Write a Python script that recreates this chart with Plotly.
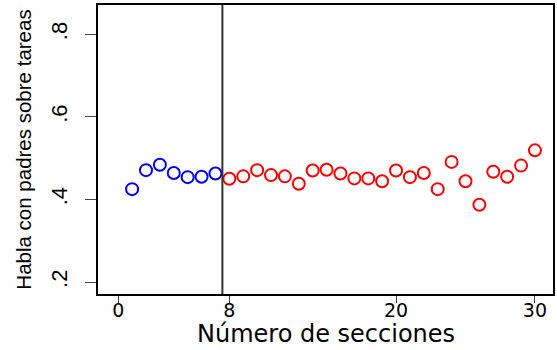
import plotly.graph_objects as go

sections_blue = [1, 2, 3, 4, 5, 6, 7]
values_blue = [0.425, 0.471, 0.484, 0.464, 0.454, 0.455, 0.463]
sections_red = list(range(8, 31))
values_red = [0.450, 0.456, 0.471, 0.459, 0.456, 0.438, 0.470, 0.472, 0.463,
              0.451, 0.451, 0.444, 0.470, 0.454, 0.464, 0.425, 0.491, 0.444,
              0.387, 0.467, 0.455, 0.482, 0.519]
cutoff = 7.5
x_ticks = [0, 8, 20, 30]
y_ticks = [0.2, 0.4, 0.6, 0.8]
y_tick_labels = [".2", ".4", ".6", ".8"]
x_title = "Número de secciones"
y_title = "Habla con padres sobre tareas"

sans = "Liberation Sans, Arial, sans-serif"
wide = "DejaVu Sans, Liberation Sans, Arial, sans-serif"

fig = go.Figure()
fig.add_trace(go.Scatter(
    x=sections_blue, y=values_blue, mode="markers",
    marker=dict(symbol="circle-open", size=12, color="#0000ff", line=dict(width=2, color="#0000ff")),
    showlegend=False, cliponaxis=False))
fig.add_trace(go.Scatter(
    x=sections_red, y=values_red, mode="markers",
    marker=dict(symbol="circle-open", size=12, color="#ff0000", line=dict(width=2, color="#ff0000")),
    showlegend=False, cliponaxis=False))
fig.add_vline(x=cutoff, line=dict(color="#333333", width=2))

fig.update_layout(
    width=557, height=350,
    margin=dict(l=98, r=2, t=5, b=56),
    paper_bgcolor="white", plot_bgcolor="white",
    font=dict(family=sans, color="black"),
)
fig.add_annotation(
    text=x_title, xref="paper", yref="paper", x=0.5, y=-0.193,
    xanchor="center", yanchor="bottom", showarrow=False,
    font=dict(family=wide, size=24, color="black"),
)
fig.update_xaxes(
    range=[-1.455, 31.30], tickvals=x_ticks, ticktext=[str(v) for v in x_ticks],
    showgrid=False, zeroline=False, showline=True, linecolor="black", linewidth=1.5,
    mirror=True, ticks="outside", ticklen=7, tickwidth=1.2, tickcolor="#444444",
    tickfont=dict(family=wide, size=19), ticklabelstandoff=-9,
)
fig.update_yaxes(
    range=[0.171, 0.871], tickvals=y_ticks, ticktext=y_tick_labels, tickangle=-90,
    showgrid=False, zeroline=False, showline=True, linecolor="black", linewidth=1.5,
    mirror=True, ticks="outside", ticklen=11, tickwidth=1.2, tickcolor="#444444",
    tickfont=dict(family=sans, size=22), ticklabelstandoff=9,
    title=dict(text=y_title, font=dict(family=sans, size=20.5), standoff=10),
)

fig.write_html("out.html")
